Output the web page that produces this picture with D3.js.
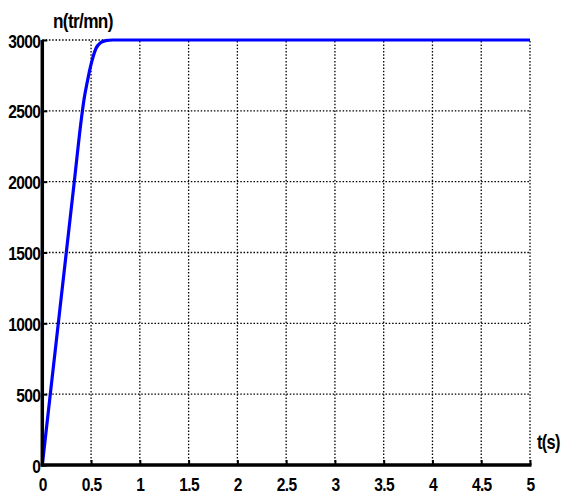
<!DOCTYPE html>
<html><head><meta charset="utf-8">
<script src="https://cdn.jsdelivr.net/npm/d3@7"></script>
<style>
body{margin:0;background:#fff;}
text{font-family:"Liberation Sans",Arial,sans-serif;font-weight:bold;fill:#000;}
</style></head><body>
<svg id="c" width="565" height="495"></svg>
<script>
const tValues = [0, 0.082, 0.164, 0.246, 0.328, 0.40, 0.43, 0.46, 0.49, 0.52, 0.55, 0.60, 0.65, 0.72, 0.80, 5];
const nValues = [0, 500, 1000, 1500, 2000, 2440, 2590, 2700, 2800, 2880, 2940, 2982, 2996, 3000, 3000, 3000];
const xTicks = [0, 0.5, 1, 1.5, 2, 2.5, 3, 3.5, 4, 4.5, 5];
const xTickLabels = ["0","0.5","1","1.5","2","2.5","3","3.5","4","4.5","5"];
const yTicks = [0, 500, 1000, 1500, 2000, 2500, 3000];
const yTickLabels = ["0","500","1000","1500","2000","2500","3000"];
const xTitle = "t(s)";
const yTitle = "n(tr/mn)";

const svg = d3.select("#c");
const x = d3.scaleLinear().domain([0,5]).range([42.3,530]);
const y = d3.scaleLinear().domain([0,3000]).range([465,40]);
const SX = 0.82;

// grid
const g = svg.append("g");
g.selectAll("line.vx").data(xTicks.filter(d=>d>0)).join("line")
 .attr("x1",d=>x(d)).attr("x2",d=>x(d)).attr("y1",y(0)).attr("y2",y(3000))
 .attr("stroke","#000").attr("stroke-width",1.3).attr("stroke-dasharray","1.5,1.8");
g.selectAll("line.hy").data(yTicks.filter(d=>d>0)).join("line")
 .attr("x1",x(0)).attr("x2",x(5)).attr("y1",d=>y(d)).attr("y2",d=>y(d))
 .attr("stroke","#000").attr("stroke-width",1.3).attr("stroke-dasharray","1.5,1.8");

// curve
const data = tValues.map((t,i)=>[t,nValues[i]]);
svg.append("path").datum(data)
 .attr("d", d3.line().x(d=>x(d[0])).y(d=>y(d[1])).curve(d3.curveMonotoneX))
 .attr("fill","none").attr("stroke","#0000ff").attr("stroke-width",3.2);

// axes
const xAxis = d3.axisBottom(x).tickValues(xTicks).tickFormat((d,i)=>xTickLabels[i]).tickSize(-5).tickPadding(12);
const yAxis = d3.axisLeft(y).tickValues(yTicks).tickFormat((d,i)=>yTickLabels[i]).tickSize(-5).tickPadding(2);
const gx = svg.append("g").attr("transform",`translate(0,${y(0)})`).call(xAxis);
const gy = svg.append("g").attr("transform",`translate(${x(0)},0)`).call(yAxis);
[gx,gy].forEach(a=>{
  a.select(".domain").attr("stroke","#000").attr("stroke-width",3.5);
  a.selectAll(".tick line").attr("stroke","#000").attr("stroke-width",2);
  a.selectAll(".tick text").style("font-family",null).attr("font-size",19).attr("letter-spacing","-0.8px");
});
gy.select(".domain").attr("d",`M0,${y(3000)}V${y(0)+1.5}`);
gx.select(".domain").attr("d",`M-1.5,0H${x(5)-x(0)+1.5}`).attr("transform",`translate(${x(0)},0)`);
gx.selectAll(".tick text").attr("dy","0.72em").attr("transform",`scale(${SX},1)`);
gy.selectAll(".tick text").attr("dy","0.37em").attr("x",-2/SX).attr("transform",`scale(${SX},1)`);

svg.append("text").attr("transform",`translate(53,28) scale(${SX},1)`).attr("font-size",21).attr("letter-spacing","-0.8px").text(yTitle);
svg.append("text").attr("transform",`translate(537,449) scale(${SX},1)`).attr("font-size",20).attr("letter-spacing","-0.8px").text(xTitle);
</script></body></html>
